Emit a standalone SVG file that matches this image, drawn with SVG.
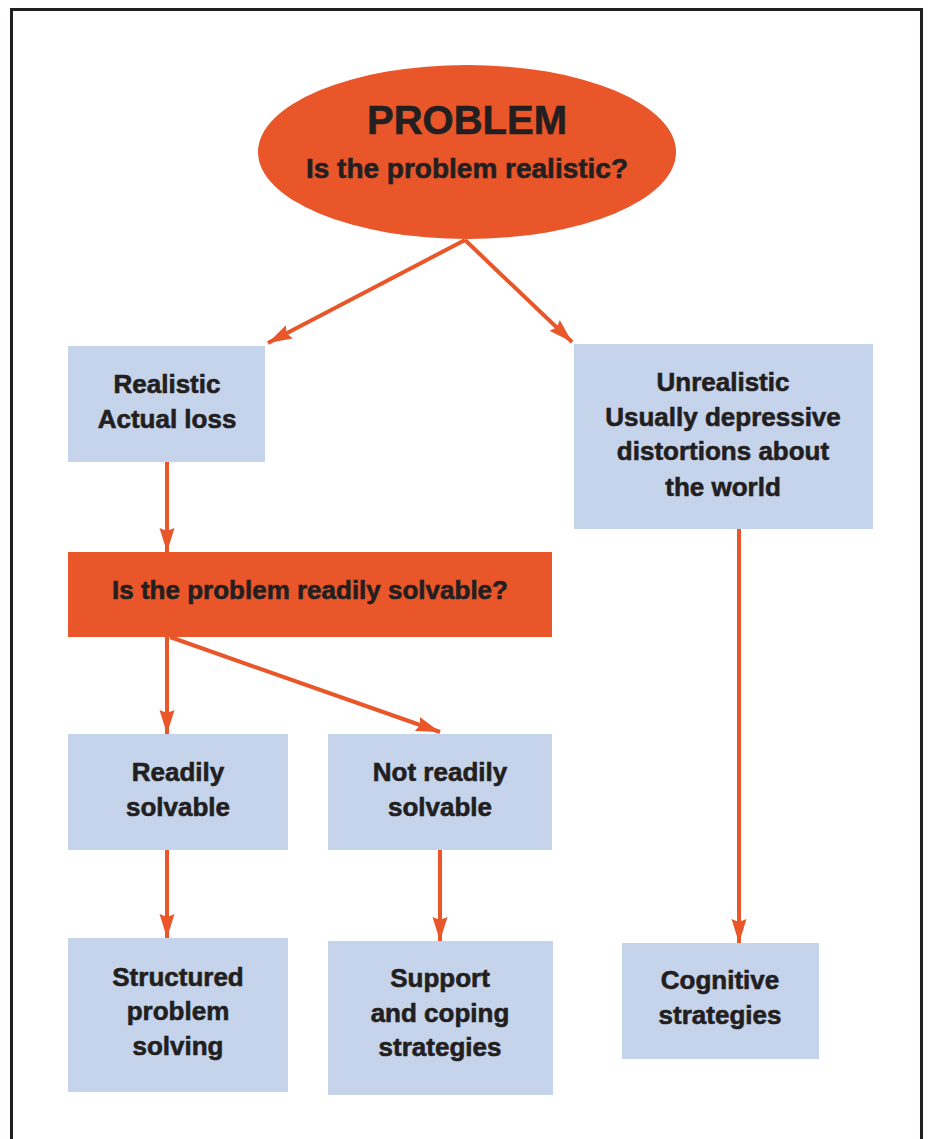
<svg xmlns="http://www.w3.org/2000/svg" width="928" height="1139" viewBox="0 0 928 1139">
<defs>
<style>
.blue{fill:#C5D3EB}
.orange{fill:#E8562A}
text{font-family:"Liberation Sans",Arial,sans-serif;font-weight:bold;fill:#231F20;stroke:#231F20;stroke-width:0.6;text-anchor:middle;font-size:26px}
.conn line{stroke:#E8562A;stroke-width:4;marker-end:url(#ah)}
</style>
<marker id="ah" markerUnits="userSpaceOnUse" markerWidth="26" markerHeight="18" viewBox="0 0 26 18" refX="24" refY="9" orient="auto">
<path d="M0,1.5 L24,9 L0,16.5 L3,9 Z" fill="#E8562A"/>
</marker>
</defs>
<rect x="0" y="0" width="928" height="1139" fill="#fff"/>
<rect x="11.5" y="9.5" width="910" height="1150" fill="none" stroke="#231F20" stroke-width="3"/>
<g class="conn">
<line x1="465" y1="240" x2="268" y2="343"/>
<line x1="465" y1="240" x2="572" y2="342"/>
<line x1="167" y1="462" x2="167" y2="552"/>
<line x1="167" y1="637" x2="167" y2="734"/>
<line x1="170" y1="637" x2="440" y2="732"/>
<line x1="167" y1="850" x2="167" y2="938"/>
<line x1="440" y1="850" x2="440" y2="941"/>
<line x1="739" y1="529" x2="739" y2="943"/>
</g>
<g id="problem">
<ellipse class="orange" cx="467" cy="152" rx="209" ry="87"/>
<text x="467" y="134" style="font-size:40px">PROBLEM</text>
<text x="467" y="178" style="font-size:28px">Is the problem realistic?</text>
</g>
<g id="realistic">
<rect class="blue" x="68" y="346" width="197" height="116"/>
<text x="167" y="393">Realistic</text>
<text x="167" y="428">Actual loss</text>
</g>
<g id="unrealistic">
<rect class="blue" x="574" y="344" width="299" height="185"/>
<text x="723" y="391">Unrealistic</text>
<text x="723" y="426">Usually depressive</text>
<text x="723" y="460">distortions about</text>
<text x="723" y="496">the world</text>
</g>
<g id="solvable">
<rect class="orange" x="68" y="552" width="484" height="85"/>
<text x="310" y="599">Is the problem readily solvable?</text>
</g>
<g id="readily">
<rect class="blue" x="68" y="734" width="220" height="116"/>
<text x="178" y="781">Readily</text>
<text x="178" y="816">solvable</text>
</g>
<g id="notreadily">
<rect class="blue" x="328" y="734" width="224" height="116"/>
<text x="440" y="781">Not readily</text>
<text x="440" y="816">solvable</text>
</g>
<g id="structured">
<rect class="blue" x="68" y="938" width="220" height="154"/>
<text x="178" y="986">Structured</text>
<text x="178" y="1020">problem</text>
<text x="178" y="1055">solving</text>
</g>
<g id="support">
<rect class="blue" x="328" y="941" width="225" height="154"/>
<text x="440" y="987">Support</text>
<text x="440" y="1022">and coping</text>
<text x="440" y="1056">strategies</text>
</g>
<g id="cognitive">
<rect class="blue" x="622" y="943" width="197" height="116"/>
<text x="720" y="989">Cognitive</text>
<text x="720" y="1024">strategies</text>
</g>
</svg>
